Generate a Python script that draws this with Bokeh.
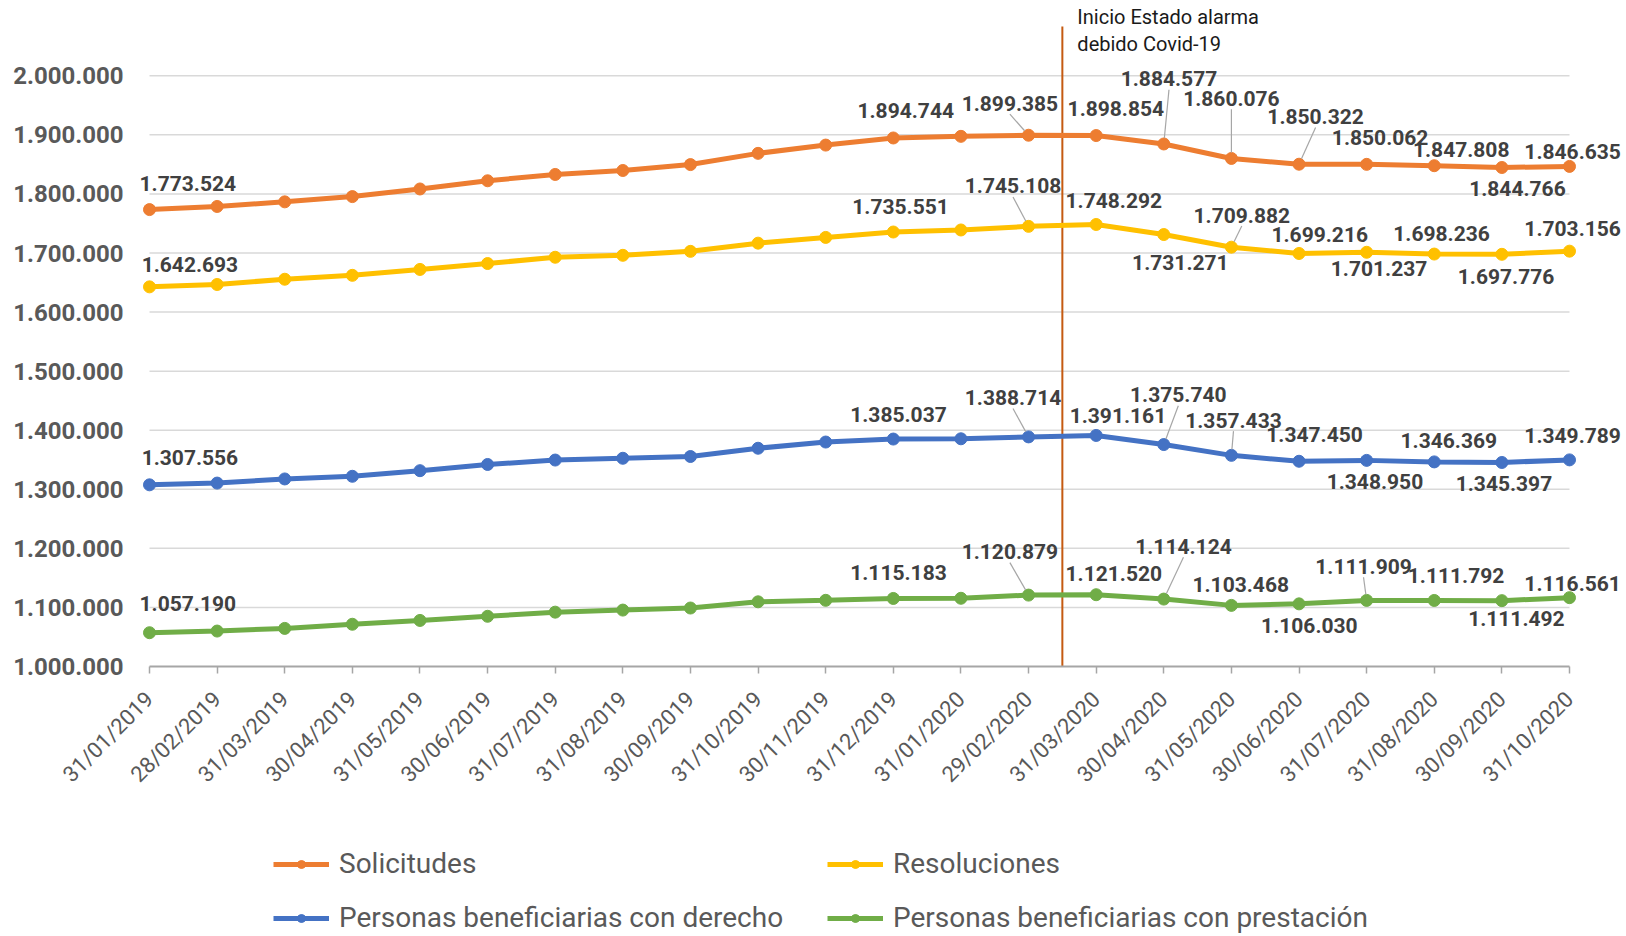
import math
from bokeh.plotting import figure
from bokeh.models import Range1d, FixedTicker, Legend, LegendItem, Label, ColumnDataSource
from bokeh.embed import file_html
from bokeh.resources import INLINE
from bokeh.core.properties import value

# ---------------- data ----------------
dates = ["31/01/2019", "28/02/2019", "31/03/2019", "30/04/2019", "31/05/2019", "30/06/2019",
         "31/07/2019", "31/08/2019", "30/09/2019", "31/10/2019", "30/11/2019", "31/12/2019",
         "31/01/2020", "29/02/2020", "31/03/2020", "30/04/2020", "31/05/2020", "30/06/2020",
         "31/07/2020", "31/08/2020", "30/09/2020", "31/10/2020"]

solicitudes = [1773524, 1778800, 1786600, 1795500, 1808400, 1822300, 1833000, 1839700, 1849700,
               1868700, 1882700, 1894744, 1897500, 1899385, 1898854, 1884577, 1860076, 1850322,
               1850062, 1847808, 1844766, 1846635]
resoluciones = [1642693, 1646700, 1655600, 1662200, 1672200, 1682200, 1692800, 1696100, 1702800,
                1716700, 1726400, 1735551, 1739000, 1745108, 1748292, 1731271, 1709882, 1699216,
                1701237, 1698236, 1697776, 1703156]
con_derecho = [1307556, 1310500, 1317500, 1322000, 1331500, 1342000, 1349500, 1352500, 1355500,
               1369500, 1380000, 1385037, 1385500, 1388714, 1391161, 1375740, 1357433, 1347450,
               1348950, 1346369, 1345397, 1349789]
con_prestacion = [1057190, 1060000, 1064500, 1071500, 1078000, 1085000, 1092000, 1095500, 1099000,
                  1109500, 1112000, 1115183, 1115500, 1120879, 1121520, 1114124, 1103468, 1106030,
                  1111909, 1111792, 1111492, 1116561]

series_names = ["Solicitudes", "Resoluciones", "Personas beneficiarias con derecho",
                "Personas beneficiarias con prestación"]

y_ticks = [1000000, 1100000, 1200000, 1300000, 1400000, 1500000, 1600000, 1700000, 1800000,
           1900000, 2000000]
y_tick_labels = ["1.000.000", "1.100.000", "1.200.000", "1.300.000", "1.400.000", "1.500.000",
                 "1.600.000", "1.700.000", "1.800.000", "1.900.000", "2.000.000"]

labeled_idx = [0, 11, 13, 14, 15, 16, 17, 18, 19, 20, 21]
event_x = 13.5            # between 29/02/2020 and 31/03/2020
event_text = "Inicio Estado alarma\ndebido Covid-19"

# ---------------- styling / layout ----------------
colors = ["#ED7D31", "#FFC000", "#4472C4", "#70AD47"]
# label offsets in screen px (dx, dy down-positive, leader flag) for labeled_idx
label_offsets = [
    [(37, -25, 0), (12, -27, 0), (-18, -31, 1), (19, -26, 0), (5, -63, 1), (0, -58, 1),
     (16, -46, 1), (13, -26, 0), (26, -16, 0), (15, 20, 0), (3, -14, 0)],
    [(39, -22, 0), (7, -25, 0), (-15, -39, 1), (17, -23, 0), (16, 27, 0), (10, -31, 1),
     (20, -18, 0), (12, 16, 0), (7, -20, 0), (4, 21, 0), (3, -22, 0)],
    [(39, -26, 0), (5, -24, 0), (-15, -38, 1), (21, -19, 0), (14, -48, 1), (2, -34, 1),
     (15, -26, 0), (8, 20, 0), (14, -21, 0), (2, 20, 0), (3, -24, 0)],
    [(37, -28, 0), (5, -25, 0), (-18, -42, 1), (17, -20, 0), (19, -51, 1), (9, -20, 0),
     (10, 21, 0), (-3, -33, 1), (21, -24, 0), (14, 17, 0), (3, -14, 0)],
]
S = 1.036  # offsets were read at reduced scale

W, H = 1626, 936
X0_PX, X21_PX = 149, 1569              # canvas x of first / last category
Y1M_PX, PX_PER_M = 666, 590.7          # canvas y of 1,000,000 and pixels per 1,000,000
px_x = (X21_PX - X0_PX) / 21.0
x_start = -X0_PX / px_x
x_end = x_start + W / px_x
Y_BASE = 1000000
Y_TOP = Y_BASE + 1000000 * Y1M_PX / PX_PER_M
Y_LOW = Y_BASE - 1000000 * (H - Y1M_PX) / PX_PER_M
px_y = PX_PER_M / 1000000
event_top = Y_BASE + 1000000 * (Y1M_PX - 26) / PX_PER_M

FONT = "Roboto"

p = figure(width=W, height=H, x_range=Range1d(x_start, x_end), y_range=Range1d(Y_LOW, Y_TOP),
           output_backend="svg", toolbar_location=None,
           min_border_left=0, min_border_right=0, min_border_top=0, min_border_bottom=0)
p.outline_line_color = None
p.xgrid.visible = False
p.ygrid.visible = False
p.background_fill_color = "white"

xs = list(range(len(dates)))

# gridlines (limited to the category span)
grid_src = ColumnDataSource(dict(y=y_ticks[1:]))
p.segment(x0=0, x1=len(dates) - 1, y0="y", y1="y", source=grid_src,
          line_color="#D9D9D9", line_width=1.5)

# event line
p.segment(x0=[event_x], x1=[event_x], y0=[Y_BASE], y1=[event_top], line_color="#C55A11", line_width=2)

all_series = [solicitudes, resoluciones, con_derecho, con_prestacion]
legend_renderers = []
for s, col in zip(all_series, colors):
    src = ColumnDataSource(dict(x=xs, y=s))
    lr = p.line("x", "y", source=src, line_color=col, line_width=5)
    sr = p.scatter("x", "y", source=src, size=12, fill_color=col, line_color=col, marker="circle")
    legend_renderers.append([lr, sr])

# data labels and leader lines
for s, offs in zip(all_series, label_offsets):
    lx, ly, txt, xo, yo = [], [], [], [], []
    lx0, ly0, lx1, ly1 = [], [], [], []
    for i, (dx, dy, lead) in zip(labeled_idx, offs):
        dx, dy = dx * S, dy * S
        lx.append(i)
        ly.append(s[i])
        txt.append(f"{s[i]:,}".replace(",", "."))
        xo.append(dx)
        yo.append(dy)
        if lead:
            sx0, sy0 = dx, dy + 11
            L = math.hypot(sx0, sy0)
            ex, ey = sx0 * 6 / L, sy0 * 6 / L
            lx0.append(i + sx0 / px_x)
            ly0.append(s[i] - sy0 / px_y)
            lx1.append(i + ex / px_x)
            ly1.append(s[i] - ey / px_y)
    if lx0:
        p.segment(x0=lx0, y0=ly0, x1=lx1, y1=ly1, line_color="#A6A6A6", line_width=1.2)
    tsrc = ColumnDataSource(dict(x=lx, y=ly, t=txt, xo=xo, yo=yo))
    p.text("x", "y", text="t", source=tsrc, x_offset="xo", y_offset="yo",
           text_font=value(FONT), text_font_style="bold", text_font_size="21px",
           text_color="#404040", text_align="center", text_baseline="middle")

# annotation
p.add_layout(Label(x=event_x, y=Y_TOP, x_offset=15, y_offset=-4, text=event_text,
                   text_font=FONT, text_font_size="20px", text_color="#1a1a1a",
                   text_baseline="top", text_align="left", text_line_height=1.15))

# axes (both drawn at fixed data positions inside the frame)
p.yaxis.fixed_location = 0
p.yaxis.ticker = FixedTicker(ticks=y_ticks)
p.yaxis.major_label_overrides = {t: l for t, l in zip(y_ticks, y_tick_labels)}
p.yaxis.axis_line_color = None
p.yaxis.major_tick_line_color = None
p.yaxis.major_tick_out = 0
p.yaxis.major_tick_in = 0
p.yaxis.minor_tick_line_color = None
p.yaxis.minor_tick_out = 0
p.yaxis.major_label_standoff = 26
p.yaxis.major_label_text_font = FONT
p.yaxis.major_label_text_font_style = "bold"
p.yaxis.major_label_text_font_size = "24px"
p.yaxis.major_label_text_color = "#595959"

p.xaxis.fixed_location = Y_BASE
p.xaxis.ticker = FixedTicker(ticks=xs)
p.xaxis.major_label_overrides = {i: d for i, d in zip(xs, dates)}
p.xaxis.bounds = (0, len(dates) - 1)
p.xaxis.axis_line_color = "#A6A6A6"
p.xaxis.axis_line_width = 2
p.xaxis.major_tick_line_color = "#A6A6A6"
p.xaxis.major_tick_line_width = 1.5
p.xaxis.major_tick_out = 7
p.xaxis.major_tick_in = 0
p.xaxis.minor_tick_line_color = None
p.xaxis.major_label_orientation = math.pi / 4
p.xaxis.major_label_standoff = 22
p.xaxis.major_label_text_font = FONT
p.xaxis.major_label_text_font_size = "22px"
p.xaxis.major_label_text_color = "#595959"

# legends (two columns), inside the frame below the axis
LEG_BOTTOM = 934   # canvas y of legend bottom edge
def make_legend(idxs, canvas_x):
    items = [LegendItem(label=series_names[k], renderers=legend_renderers[k]) for k in idxs]
    lg = Legend(items=items, location=(canvas_x, H - LEG_BOTTOM), orientation="vertical",
                glyph_width=56, glyph_height=20, label_height=20, spacing=21, padding=0,
                margin=0, label_standoff=10, border_line_color=None, background_fill_alpha=0,
                label_text_font=FONT, label_text_font_size="28px", label_text_color="#595959",
                label_text_baseline="middle")
    return lg

p.add_layout(make_legend([0, 2], 273))
p.add_layout(make_legend([1, 3], 827))

open("out.html", "w").write(file_html(p, INLINE))
